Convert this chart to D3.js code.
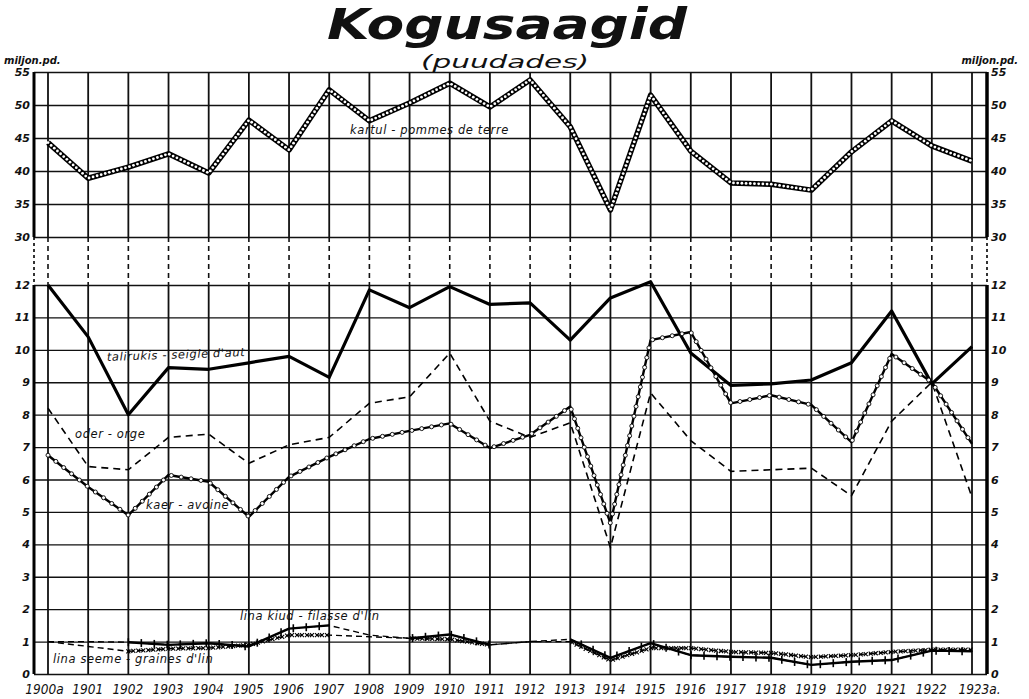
<!DOCTYPE html>
<html>
<head>
<meta charset="utf-8">
<script src="https://cdn.jsdelivr.net/npm/d3@7"></script>
<style>
  body { margin: 0; background: #fff; }
  text { font-family: "DejaVu Sans", sans-serif; font-style: italic; fill: #111; }
</style>
</head>
<body>
<script>
// aastad
var years = [1900, 1901, 1902, 1903, 1904, 1905, 1906, 1907, 1908, 1909, 1910, 1911,
             1912, 1913, 1914, 1915, 1916, 1917, 1918, 1919, 1920, 1921, 1922, 1923];
var yearLabels = ["1900a", "1901", "1902", "1903", "1904", "1905", "1906", "1907", "1908", "1909", "1910", "1911",
                  "1912", "1913", "1914", "1915", "1916", "1917", "1918", "1919", "1920", "1921", "1922", "1923a."];

// miljon puuda
var kartul = [44.3, 38.9, 40.6, 42.6, 39.7, 47.7, 43.2, 52.3, 47.6, 50.3, 53.3, 49.7,
              53.8, 46.7, 34.1, 51.5, 43.0, 38.2, 38.0, 37.1, 42.9, 47.6, 43.8, 41.5];
var talirukis = [12.0, 10.4, 8.0, 9.45, 9.4, 9.6, 9.8, 9.15, 11.85, 11.3, 11.95, 11.4,
                 11.45, 10.3, 11.6, 12.1, 9.9, 8.9, 8.95, 9.07, 9.6, 11.2, 8.95, 10.1];
var oder = [8.2, 6.4, 6.3, 7.3, 7.4, 6.5, 7.07, 7.3, 8.35, 8.55, 9.9, 7.8,
            7.3, 7.75, 3.9, 8.67, 7.2, 6.25, 6.3, 6.35, 5.5, 7.8, 9.0, 5.45];
var kaer = [6.75, 5.77, 4.9, 6.14, 5.93, 4.85, 6.08, 6.7, 7.25, 7.5, 7.73, 6.97,
            7.38, 8.25, 4.65, 10.3, 10.55, 8.35, 8.6, 8.3, 7.15, 9.87, 9.0, 7.1];
var linaKiud = [1.0, 1.0, 0.98, 0.9, 0.95, 0.85, 1.4, 1.5, 1.2, 1.1, 1.22, 0.9,
                1.0, 1.07, 0.5, 0.95, 0.58, 0.53, 0.5, 0.28, 0.38, 0.43, 0.72, 0.7];
var linaSeeme = [1.0, 0.85, 0.7, 0.78, 0.8, 0.9, 1.2, 1.2, 1.15, 1.1, 1.07, 0.9,
                 1.0, 1.0, 0.42, 0.8, 0.8, 0.68, 0.65, 0.52, 0.58, 0.68, 0.75, 0.75];
// aastad, mille kohta andmed puuduvad (kriipsjoon)
var linaPuudu = [1900, 1901, 1908, 1912];

var topTicks = [30, 35, 40, 45, 50, 55];
var bottomTicks = [0, 1, 2, 3, 4, 5, 6, 7, 8, 9, 10, 11, 12];

var W = 1029, H = 699;
var left = 34, right = 987;

var svg = d3.select("body").append("svg")
    .attr("width", W)
    .attr("height", H);

svg.append("rect").attr("width", W).attr("height", H).attr("fill", "#fff");

var x = d3.scaleLinear().domain([1900, 1923]).range([48, 972]);
var yTop = d3.scaleLinear().domain([30, 55]).range([237, 72]);
var yBot = d3.scaleLinear().domain([0, 12]).range([674, 285]);

// horisontaalne võrgustik
var grid = svg.append("g");
grid.append("g")
    .attr("transform", "translate(" + left + ",0)")
    .call(d3.axisLeft(yTop).tickValues(topTicks).tickSize(-(right - left)).tickFormat(""));
grid.append("g")
    .attr("transform", "translate(" + left + ",0)")
    .call(d3.axisLeft(yBot).tickValues(bottomTicks).tickSize(-(right - left)).tickFormat(""));
grid.selectAll(".domain").remove();
grid.selectAll(".tick line").attr("stroke", "#111").attr("stroke-width", 1.4);

// vertikaalsed jooned aastate kaupa
var vgrid = svg.append("g");
years.forEach(function(yr) {
    vgrid.append("line")
        .attr("x1", x(yr)).attr("x2", x(yr))
        .attr("y1", yTop(55)).attr("y2", yTop(30))
        .attr("stroke", "#111").attr("stroke-width", 1.8);
    vgrid.append("line")
        .attr("x1", x(yr)).attr("x2", x(yr))
        .attr("y1", yTop(30)).attr("y2", yBot(12))
        .attr("stroke", "#111").attr("stroke-width", 1.6)
        .attr("stroke-dasharray", "5,4");
    vgrid.append("line")
        .attr("x1", x(yr)).attr("x2", x(yr))
        .attr("y1", yBot(12)).attr("y2", yBot(0))
        .attr("stroke", "#111").attr("stroke-width", 1.8);
});

// teljed
[left, right].forEach(function(px, i) {
    var sw = i == 0 ? 3 : 3.5;
    svg.append("line").attr("x1", px).attr("x2", px)
        .attr("y1", yTop(55)).attr("y2", yTop(30))
        .attr("stroke", "#000").attr("stroke-width", sw);
    svg.append("line").attr("x1", px).attr("x2", px)
        .attr("y1", yTop(30)).attr("y2", yBot(12))
        .attr("stroke", "#000").attr("stroke-width", 1.6).attr("stroke-dasharray", "3,3");
    svg.append("line").attr("x1", px).attr("x2", px)
        .attr("y1", yBot(12)).attr("y2", yBot(0))
        .attr("stroke", "#000").attr("stroke-width", sw);
});

function tickLabels(axisFn, scale, ticks, px) {
    var g = svg.append("g")
        .attr("transform", "translate(" + px + ",0)")
        .call(axisFn(scale).tickValues(ticks).tickSize(0).tickPadding(3));
    g.select(".domain").remove();
    g.selectAll("text")
        .style("font-size", "11px")
        .style("font-weight", "bold")
        .style("font-style", "italic")
        .attr("fill", "#111");
}
tickLabels(d3.axisLeft, yTop, topTicks, left - 1);
tickLabels(d3.axisLeft, yBot, bottomTicks, left - 1);
tickLabels(d3.axisRight, yTop, topTicks, right + 1);
tickLabels(d3.axisRight, yBot, bottomTicks, right + 1);

// aastate sildid
var xAxis = svg.append("g")
    .attr("transform", "translate(0," + (yBot(0) + 5) + ")")
    .call(d3.axisBottom(x).tickValues(years).tickSize(0)
        .tickFormat(function(d, i) { return yearLabels[i]; }));
xAxis.select(".domain").remove();
xAxis.selectAll("text")
    .style("font-family", "'DejaVu Sans Condensed', 'DejaVu Sans', sans-serif")
    .style("font-size", "13.5px")
    .style("font-style", "italic")
    .attr("dy", "0.9em")
    .attr("dx", function(d, i) { return i == 0 ? -4 : (i == 23 ? 7 : -1); })
    .attr("fill", "#111");

// pealkiri
svg.append("text")
    .attr("x", 507).attr("y", 39)
    .attr("text-anchor", "middle")
    .attr("textLength", 360).attr("lengthAdjust", "spacingAndGlyphs")
    .style("font-size", "43px").style("font-weight", "bold")
    .text("Kogusaagid");
svg.append("text")
    .attr("x", 505).attr("y", 68)
    .attr("text-anchor", "middle")
    .attr("textLength", 168).attr("lengthAdjust", "spacingAndGlyphs")
    .style("font-size", "18px")
    .text("(puudades)");
svg.append("text")
    .attr("x", 4).attr("y", 64)
    .style("font-size", "10px").style("font-weight", "bold")
    .text("miljon.pd.");
svg.append("text")
    .attr("x", 1018).attr("y", 64)
    .attr("text-anchor", "end")
    .style("font-size", "10px").style("font-weight", "bold")
    .text("miljon.pd.");

// joonte joonistamine
function lineFor(scale) {
    return d3.line()
        .x(function(d, i) { return x(years[i]); })
        .y(function(d) { return scale(d); });
}

// märgid mööda joont
function alongPath(path, step, fn) {
    var node = path.node();
    var len = node.getTotalLength();
    for (var l = 0; l <= len; l += step) {
        var p = node.getPointAtLength(l);
        fn(p);
    }
}

var marks = svg.append("g");

// kartul - helmestega joon
var kPath = marks.append("path")
    .datum(kartul)
    .attr("d", lineFor(yTop))
    .attr("fill", "none")
    .attr("stroke", "#000")
    .attr("stroke-width", 5.5)
    .attr("stroke-linejoin", "round");
alongPath(kPath, 4.2, function(p) {
    marks.append("circle").attr("cx", p.x).attr("cy", p.y).attr("r", 1.4).attr("fill", "#fff");
});

// talirukis
marks.append("path")
    .datum(talirukis)
    .attr("d", lineFor(yBot))
    .attr("fill", "none")
    .attr("stroke", "#000")
    .attr("stroke-width", 3.2)
    .attr("stroke-linejoin", "round");

// oder
marks.append("path")
    .datum(oder)
    .attr("d", lineFor(yBot))
    .attr("fill", "none")
    .attr("stroke", "#000")
    .attr("stroke-width", 1.6)
    .attr("stroke-dasharray", "7,5");

// kaer
var kaerPath = marks.append("path")
    .datum(kaer)
    .attr("d", lineFor(yBot))
    .attr("fill", "none")
    .attr("stroke", "#000")
    .attr("stroke-width", 2.4)
    .attr("stroke-linejoin", "round");
alongPath(kaerPath, 10, function(p) {
    marks.append("circle").attr("cx", p.x).attr("cy", p.y).attr("r", 2)
        .attr("fill", "#fff").attr("stroke", "#000").attr("stroke-width", 0.9);
});

// lina: kriipsjoon kogu ulatuses, mõõdetud aastad täisjoonega
function measured(d, i) { return linaPuudu.indexOf(years[i]) < 0; }

marks.append("path")
    .datum(linaSeeme)
    .attr("d", lineFor(yBot))
    .attr("fill", "none").attr("stroke", "#000")
    .attr("stroke-width", 1.4).attr("stroke-dasharray", "6,4");
marks.append("path")
    .datum(linaKiud)
    .attr("d", lineFor(yBot))
    .attr("fill", "none").attr("stroke", "#000")
    .attr("stroke-width", 1.4).attr("stroke-dasharray", "6,4");

var seemePath = marks.append("path")
    .datum(linaSeeme)
    .attr("d", lineFor(yBot).defined(measured))
    .attr("fill", "none").attr("stroke", "none");
alongPath(seemePath, 5, function(p) {
    marks.append("path")
        .attr("d", "M" + (p.x - 2) + "," + (p.y - 2) + "L" + (p.x + 2) + "," + (p.y + 2) +
                   "M" + (p.x - 2) + "," + (p.y + 2) + "L" + (p.x + 2) + "," + (p.y - 2))
        .attr("stroke", "#000").attr("stroke-width", 1.1);
});

var kiudPath = marks.append("path")
    .datum(linaKiud)
    .attr("d", lineFor(yBot).defined(measured))
    .attr("fill", "none").attr("stroke", "#000")
    .attr("stroke-width", 2.4).attr("stroke-linejoin", "round");
alongPath(kiudPath, 13, function(p) {
    marks.append("line")
        .attr("x1", p.x).attr("x2", p.x).attr("y1", p.y - 4).attr("y2", p.y + 4)
        .attr("stroke", "#000").attr("stroke-width", 1.6);
});

// joonte nimed
var names = [
    {t: "kartul - pommes de terre", x: 350, y: 134, r: 0},
    {t: "talirukis - seigle d'aut", x: 107, y: 361, r: -2},
    {t: "oder - orge", x: 75, y: 438, r: 0},
    {t: "kaer - avoine", x: 146, y: 509, r: 0},
    {t: "lina kiud - filasse d'lin", x: 240, y: 620, r: 0},
    {t: "lina seeme - graines d'lin", x: 53, y: 663, r: 0}
];
svg.selectAll("text.name")
    .data(names)
    .enter()
    .append("text")
    .attr("class", "name")
    .attr("transform", function(d) { return "translate(" + d.x + "," + d.y + ") rotate(" + d.r + ")"; })
    .style("font-size", "11.5px")
    .style("letter-spacing", "0.6px")
    .text(function(d) { return d.t; });
</script>
</body>
</html>
